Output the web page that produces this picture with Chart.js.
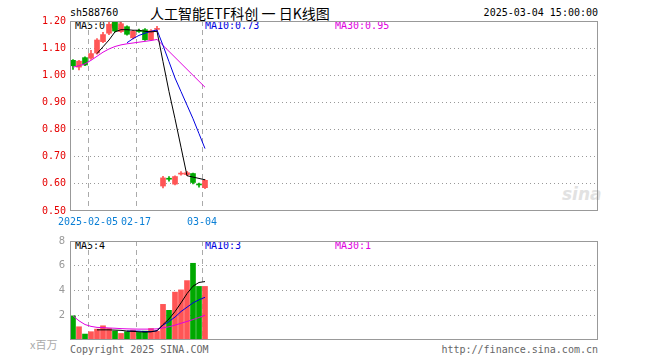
<!DOCTYPE html>
<html>
<head>
<meta charset="utf-8">
<script src="https://cdn.jsdelivr.net/npm/chart.js@4/dist/chart.umd.min.js"></script>
<style>
  body { margin: 0; width: 660px; height: 360px; background: #fff; position: relative; overflow: hidden; }
  canvas { position: absolute; left: 0; z-index: 1; }
  .t { position: absolute; white-space: nowrap; font-family: "DejaVu Sans Mono", monospace; font-size: 10px; line-height: 12px; z-index: 0; }
</style>
</head>
<body>
<canvas id="kline" width="660" height="232" style="top:0"></canvas>
<canvas id="vol" width="660" height="130" style="top:230px"></canvas>

<div class="t" style="left:70px;top:7px;color:#000">sh588760</div>
<div class="t" style="left:150px;top:4px;font-family:'Noto Sans CJK SC';font-size:14px;line-height:18px;color:#000">人工智能ETF科创 一 日K线图</div>
<div class="t" style="right:62px;top:7px;color:#000">2025-03-04 15:00:00</div>
<div class="t" style="left:75px;top:20px;color:#000">MA5:0.61</div>
<div class="t" style="left:205px;top:20px;color:#0000e0">MA10:0.73</div>
<div class="t" style="left:335px;top:20px;color:#e000e0">MA30:0.95</div>
<div class="t" style="left:562px;top:184px;font-family:'DejaVu Sans';font-style:italic;font-weight:bold;font-size:17px;line-height:20px;color:#e2e2e2">sina</div>
<div class="t" style="left:75px;top:240px;color:#000">MA5:4</div>
<div class="t" style="left:205px;top:240px;color:#0000e0">MA10:3</div>
<div class="t" style="left:335px;top:240px;color:#e000e0">MA30:1</div>
<div class="t" style="left:30px;top:338px;font-family:'Noto Sans CJK SC';font-size:11px;line-height:13px;color:#aaa">x百万</div>
<div class="t" style="left:70px;top:344px;color:#666">Copyright 2025 SINA.COM</div>
<div class="t" style="right:62px;top:344px;color:#666">http://finance.sina.com.cn</div>

<script>
// trading days shown (23 of 88 slots)
const dates = ['2025-01-23','2025-01-24','2025-01-27','2025-02-05','2025-02-06','2025-02-07',
  '2025-02-10','2025-02-11','2025-02-12','2025-02-13','2025-02-14','2025-02-17','2025-02-18',
  '2025-02-19','2025-02-20','2025-02-21','2025-02-24','2025-02-25','2025-02-26','2025-02-27',
  '2025-02-28','2025-03-03','2025-03-04'];
const slots = 88;
const tickIdx = [3, 11, 22];
const tickText = ['2025-02-05', '02-17', '03-04'];

const open  = [1.055,1.030,1.065,1.063,1.082,1.124,1.155,1.197,1.161,1.179,1.138,1.163,1.168,1.131,1.169,0.592,0.619,0.599,0.636,0.634,0.638,0.598,0.586];
const close = [1.035,1.052,1.038,1.080,1.130,1.150,1.188,1.163,1.190,1.151,1.162,1.161,1.131,1.164,1.172,0.622,0.617,0.627,0.639,0.641,0.605,0.596,0.613];
const high  = [1.058,1.055,1.068,1.092,1.135,1.158,1.195,1.199,1.195,1.182,1.166,1.170,1.172,1.168,1.180,0.628,0.627,0.630,0.645,0.646,0.640,0.603,0.616];
const low   = [1.022,1.020,1.035,1.058,1.078,1.120,1.150,1.160,1.158,1.148,1.134,1.158,1.128,1.128,1.162,0.585,0.610,0.596,0.632,0.630,0.600,0.588,0.582];

const ma5  = [null,null,null,null,1.080,1.105,1.130,1.160,1.168,1.168,1.166,1.166,1.162,1.160,1.162,1.050,0.940,0.840,0.735,0.630,0.625,0.620,0.615];
const ma10 = [null,null,null,null,null,null,null,null,null,1.120,1.135,1.147,1.155,1.162,1.167,1.110,1.050,0.990,0.940,0.890,0.840,0.785,0.730];
const ma30 = [1.030,1.035,1.042,1.055,1.070,1.085,1.097,1.106,1.112,1.116,1.119,1.122,1.125,1.128,1.132,1.110,1.088,1.066,1.044,1.022,1.000,0.978,0.956];

// volume, x百万
const volume = [1.95,1.07,0.48,0.67,0.88,1.15,0.93,0.72,0.53,0.67,0.80,0.61,0.72,0.93,0.72,2.88,2.40,3.87,4.05,4.80,6.20,4.33,4.33];
const vma5  = [null,null,null,null,0.82,0.82,0.82,0.80,0.78,0.72,0.70,0.66,0.64,0.66,0.75,1.25,1.70,2.30,3.00,3.75,4.35,4.65,4.72];
const vma10 = [null,null,null,null,null,null,null,null,null,0.72,0.72,0.72,0.68,0.68,0.75,1.20,1.50,1.85,2.30,2.65,3.00,3.25,3.45];
const vma30 = [1.95,1.55,1.25,1.10,1.02,1.00,0.97,0.95,0.92,0.90,0.89,0.88,0.88,0.88,0.90,0.98,1.07,1.20,1.35,1.50,1.65,1.82,2.00];

const RED = '#ff5555', GREEN = '#00a800';
const mono = { family: 'DejaVu Sans Mono', size: 10 };
const labels = dates.concat(new Array(slots - dates.length).fill(''));
const upColor = c => close[c.dataIndex] >= open[c.dataIndex] ? RED : GREEN;

const frame = {
  id: 'frame',
  afterDatasetsDraw(chart) {
    const { ctx, chartArea: a } = chart;
    ctx.save();
    ctx.strokeStyle = '#999';
    ctx.lineWidth = 1;
    ctx.strokeRect(a.left + 0.5, a.top + 0.5, a.right - a.left - 1, a.bottom - a.top - 1);
    ctx.restore();
  }
};

function xAxis(showTicks) {
  return {
    type: 'category',
    labels: labels,
    offset: true,
    grid: {
      offset: true, drawTicks: false, lineWidth: 1,
      color: c => tickIdx.includes(c.index) ? '#aaa' : 'rgba(0,0,0,0)'
    },
    border: { display: false, dash: [5, 4] },
    ticks: {
      display: showTicks, autoSkip: false, maxRotation: 0, padding: 5, labelOffset: -3,
      color: '#0a7fd6', font: mono,
      callback: (v, i) => { const k = tickIdx.indexOf(i); return k < 0 ? '' : tickText[k]; }
    },
    afterFit: s => { s.height = showTicks ? 21 : 0; }
  };
}

function line(data, color) {
  return { type: 'line', data: data, borderColor: color, borderWidth: 1, pointRadius: 0, tension: 0, order: 0 };
}

new Chart(document.getElementById('kline'), {
  type: 'bar',
  data: {
    labels: labels,
    datasets: [
      { data: low.map((l, i) => [l, high[i]]), backgroundColor: upColor, barThickness: 1, minBarLength: 1, order: 2 },
      { data: open.map((o, i) => [o, close[i]]), backgroundColor: upColor, barThickness: 5, minBarLength: 1, order: 1 },
      line(ma5, '#000'),
      line(ma10, '#0000e0'),
      line(ma30, '#e000e0')
    ]
  },
  options: {
    responsive: false, animation: false, events: [],
    datasets: { bar: { grouped: false } },
    layout: { padding: { top: 21, right: 62, left: 0, bottom: 0 } },
    plugins: { legend: { display: false }, tooltip: { enabled: false } },
    scales: {
      x: xAxis(true),
      y: {
        min: 0.5, max: 1.2,
        ticks: { stepSize: 0.1, padding: 4, color: '#e60000', font: mono, callback: v => v.toFixed(2) },
        grid: { drawTicks: false, color: c => (c.tick.value > 0.51 && c.tick.value < 1.19) ? '#999' : 'rgba(0,0,0,0)' },
        border: { display: false, dash: [1, 3] },
        afterFit: s => { s.width = 70; }
      }
    }
  },
  plugins: [frame]
});

new Chart(document.getElementById('vol'), {
  type: 'bar',
  data: {
    labels: labels,
    datasets: [
      { data: volume, backgroundColor: upColor, barThickness: 5, order: 1 },
      line(vma5, '#000'),
      line(vma10, '#0000e0'),
      line(vma30, '#e000e0')
    ]
  },
  options: {
    responsive: false, animation: false, events: [],
    layout: { padding: { top: 10, right: 62, left: 0, bottom: 20 } },
    plugins: { legend: { display: false }, tooltip: { enabled: false } },
    scales: {
      x: xAxis(false),
      y: {
        min: 0, max: 8,
        ticks: { stepSize: 2, padding: 5, color: '#999', font: { family: 'DejaVu Sans', size: 10 }, callback: v => v === 0 ? '' : v },
        grid: { drawTicks: false, color: c => (c.tick.value > 0 && c.tick.value < 8) ? '#999' : 'rgba(0,0,0,0)' },
        border: { display: false, dash: [1, 3] },
        afterFit: s => { s.width = 70; }
      }
    }
  },
  plugins: [frame]
});
</script>
</body>
</html>
